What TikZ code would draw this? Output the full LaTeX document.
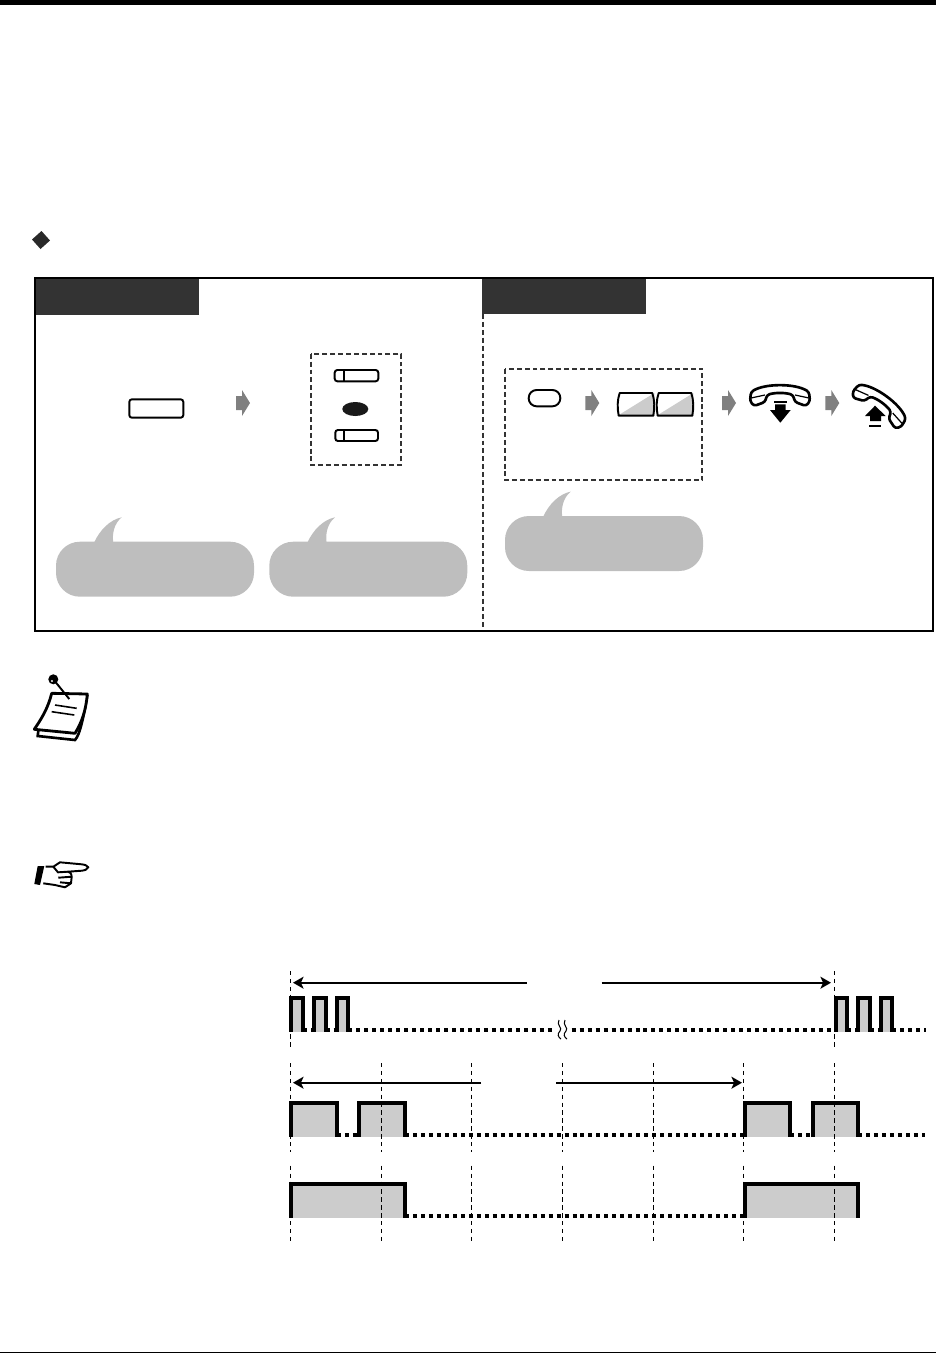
\documentclass[tikz,border=0pt]{standalone}
\usetikzlibrary{arrows.meta}
\definecolor{tabdark}{HTML}{333333}
\definecolor{arrowgray}{HTML}{808080}
\definecolor{bubblegray}{HTML}{BEBEBE}
\definecolor{pulsegray}{HTML}{CCCCCC}
\tikzset{
  boxdash/.style={line width=1pt,dash pattern=on 2.8pt off 1.7pt,draw=tabdark},
  keyline/.style={draw=black,line width=1.1pt,rounded corners=1.5pt},
  phoneline/.style={draw=black,line width=1.5pt,fill=white,line join=round,rounded corners=1.5pt},
  grid/.style={line width=0.55pt,dash pattern=on 2.5pt off 2pt},
  pulseline/.style={line width=2.4pt,fill=pulsegray},
  dotline/.style={line width=2.2pt,dash pattern=on 2.27pt off 2.27pt},
  span/.style={-{Stealth[length=6pt,width=6.8pt,inset=1.5pt]},line width=1.2pt},
  grayarrow/.pic={\fill[arrowgray] (0,-7)--(6,-7)--(6,-13)--(14,0)--(6,13)--(6,7)--(0,7)--cycle;},
  bubble/.pic={
    \fill[bubblegray,rounded corners=13.6pt] (0,0) rectangle (198,55);
    \fill[bubblegray] (38,1) .. controls (44,-12) and (54,-22) .. (65.7,-24.4)
      .. controls (58,-18) and (56,-8) .. (57.3,1) -- cycle;},
  handset/.pic={
    \draw[phoneline] (-29,-4) .. controls (-15,-12.7) and (15,-12.7) .. (29,-4)
      -- (30,5) -- (26,10) -- (15,6) -- (13,-1)
      .. controls (5,-3.5) and (-5,-3.5) .. (-13,-1)
      -- (-15,6) -- (-26,10) -- (-30,5) -- cycle;
    \draw[line width=0.7pt] (-29,2) -- (-15,-1);
    \draw[line width=0.7pt] (29,2) -- (15,-1);},
}
\begin{document}
\begin{tikzpicture}[x=0.02cm,y=-0.02cm,>=stealth]
  \useasboundingbox (0,0) rectangle (936,1353);
  \fill[black] (0,0) rectangle (936,5);
  \fill[black] (0,1351.5) rectangle (936,1353);
  \fill[tabdark!80!black] (41.5,231) -- (50,240.5) -- (40.5,249) -- (32,239.5) -- cycle;

  \coordinate (NW) at (35,278);
  \coordinate (SE) at (933,631);
  \fill[tabdark] (35,279) rectangle (199,315);
  \fill[tabdark] (482,279) rectangle (646,314);
  \draw[boxdash] (483,314) -- (483,630);
  \draw[line width=1.2pt] (NW) rectangle (SE);

  \draw[keyline] (129.3,399.3) rectangle (183.3,417.7);
  \pic at (236,403) {grayarrow};
  \draw[boxdash] (310.7,353.7) rectangle (401.3,465);
  \draw[keyline] (334.7,370) rectangle (378.3,381.3);
  \draw[line width=1.2pt] (344,370) -- (344,381.3);
  \fill[black!90] (355.3,409) ellipse (13 and 7);
  \draw[keyline] (335.3,430) rectangle (378,441);
  \draw[line width=0.7pt] (344,430) -- (344,441);
  \pic at (56,541.7) {bubble};
  \pic at (269.3,541.7) {bubble};

  \draw[boxdash] (504.7,368.7) rectangle (702.3,480);
  \draw[keyline,rounded corners=4.5pt] (528.7,390) rectangle (560.3,406.3);
  \pic at (585.3,403) {grayarrow};
  \foreach \k in {617.7,656.7}{
    \fill[pulsegray] (\k,415.7) -- (\k+36.6,393) -- (\k+36.6,415.7) -- cycle;
    \draw[line width=1.1pt,line join=round] (\k+2,393) -- (\k+34.6,393)
      .. controls (\k+37,400) and (\k+37,408) .. (\k+35.6,415.7) -- (\k+1,415.7)
      .. controls (\k-0.5,408) and (\k-0.5,400) .. (\k+2,393) -- cycle;
  }
  \pic at (722,403) {grayarrow};
  \pic at (825.3,403) {grayarrow};
  \pic at (505,516) {bubble};

  \pic at (780,396) {handset};
  \fill[black] (774,401) rectangle (786.7,402.6);
  \fill[black] (775,404.3) -- (785.7,404.3) -- (785.7,410) -- (790.7,410)
    -- (780.3,422.7) -- (770,410) -- (775,410) -- cycle;
  \pic[rotate=-36] at (880,405) {handset};
  \fill[black] (869,425) rectangle (881,426.6);
  \fill[black] (870,421) -- (881,421) -- (881,416) -- (885.7,416)
    -- (875,405.7) -- (865,416) -- (870,416) -- cycle;

  \fill[black] (53.3,679.3) circle (5);
  \fill[white] (52,681) circle (1.2);
  \draw[line width=1.5pt,fill=white] (38.3,731) -- (37.7,736) -- (75,740)
    .. controls (80,735) and (84,715) .. (87.3,695);
  \draw[line width=1.6pt,fill=white,line join=round] (51.7,693.3) -- (87.3,694)
    .. controls (86,710) and (82,722) .. (75,733.3) -- (34.3,729.3)
    .. controls (42,718) and (48,708) .. (51.7,693.3) -- cycle;
  \draw[line width=0.9pt] (55,705) -- (76.7,708.3);
  \draw[line width=0.9pt] (51.7,711.7) -- (74.3,715);
  \draw[line width=1.1pt] (53.3,679.3) -- (69.3,699);

  \fill[black] (37.7,866) -- (44.3,866) -- (40,885) -- (34.3,884) -- cycle;
  \draw[line width=1.1pt,line join=round] (45.7,866.7) -- (53.3,866.7) -- (60,862.3)
    -- (81.7,864.3) .. controls (86,865) .. (88.3,867.3) .. controls (86,870) .. (81.7,870.7)
    -- (67.7,871.7) .. controls (71,873) .. (71.7,876.7) -- (71,883.3) -- (65,887.3)
    -- (55,885) -- (43.3,883.3);
  \draw[line width=1.1pt] (53.3,866.7) -- (58,872.3) -- (67.7,871.7);
  \draw[line width=1.1pt] (58.3,877.7) -- (71.7,876.7);
  \draw[line width=1.1pt] (60,882.3) -- (71,883.3);

  \foreach \a/\b in {291/303.3,314.3/325.7,336.7/348.3,836/847.3,858.3/870,881/892.3}{
    \draw[pulseline] (\a,1031.7) -- (\a,997.7) -- (\b,997.7) -- (\b,1031.7);
  }
  \foreach \a/\b in {303.3/314.3,325.7/336.7,348.3/552.7,571.7/836,847.3/858.3,870/881,892.3/926}{
    \draw[dotline] (\a,1029.7) -- (\b,1029.7);
  }
  \foreach \a/\b in {291/337,359.3/405,745/790,813.3/858}{
    \draw[pulseline] (\a,1136.7) -- (\a,1102.7) -- (\b,1102.7) -- (\b,1136.7);
  }
  \foreach \a/\b in {337/359.3,405/745,790/813.3,858/925}{
    \draw[dotline] (\a,1134.7) -- (\b,1134.7);
  }
  \foreach \a/\b in {291/405,745/858}{
    \draw[pulseline] (\a,1217.7) -- (\a,1183.7) -- (\b,1183.7) -- (\b,1217.7);
  }
  \draw[dotline] (405,1215.7) -- (745,1215.7);

  \draw[line width=0.6pt] (559,1020) .. controls (556,1025) and (563,1028) .. (560,1031)
    .. controls (557,1034) and (558,1037) .. (561,1039);
  \draw[line width=0.6pt] (565,1020) .. controls (562,1025) and (569,1028) .. (566,1031)
    .. controls (563,1034) and (564,1037) .. (567,1039);

  \foreach \x in {290.7,834.3}{
    \draw[grid] (\x,971) -- (\x,1047);
  }
  \foreach \x in {290.7,381.5,471.3,562.7,653.3,743.3,834.3}{
    \draw[grid] (\x,1063) -- (\x,1152);
    \draw[grid] (\x,1165.7) -- (\x,1241);
  }

  \coordinate (TopL) at (293,982.7);
  \coordinate (TopR) at (831,982.7);
  \coordinate (MidL) at (293,1082.7);
  \coordinate (MidR) at (742,1082.7);
  \draw[span] (526.7,982.7) -- (TopL);
  \draw[span] (601.7,982.7) -- (TopR);
  \draw[span] (481,1082.7) -- (MidL);
  \draw[span] (556,1082.7) -- (MidR);
\end{tikzpicture}
\end{document}
